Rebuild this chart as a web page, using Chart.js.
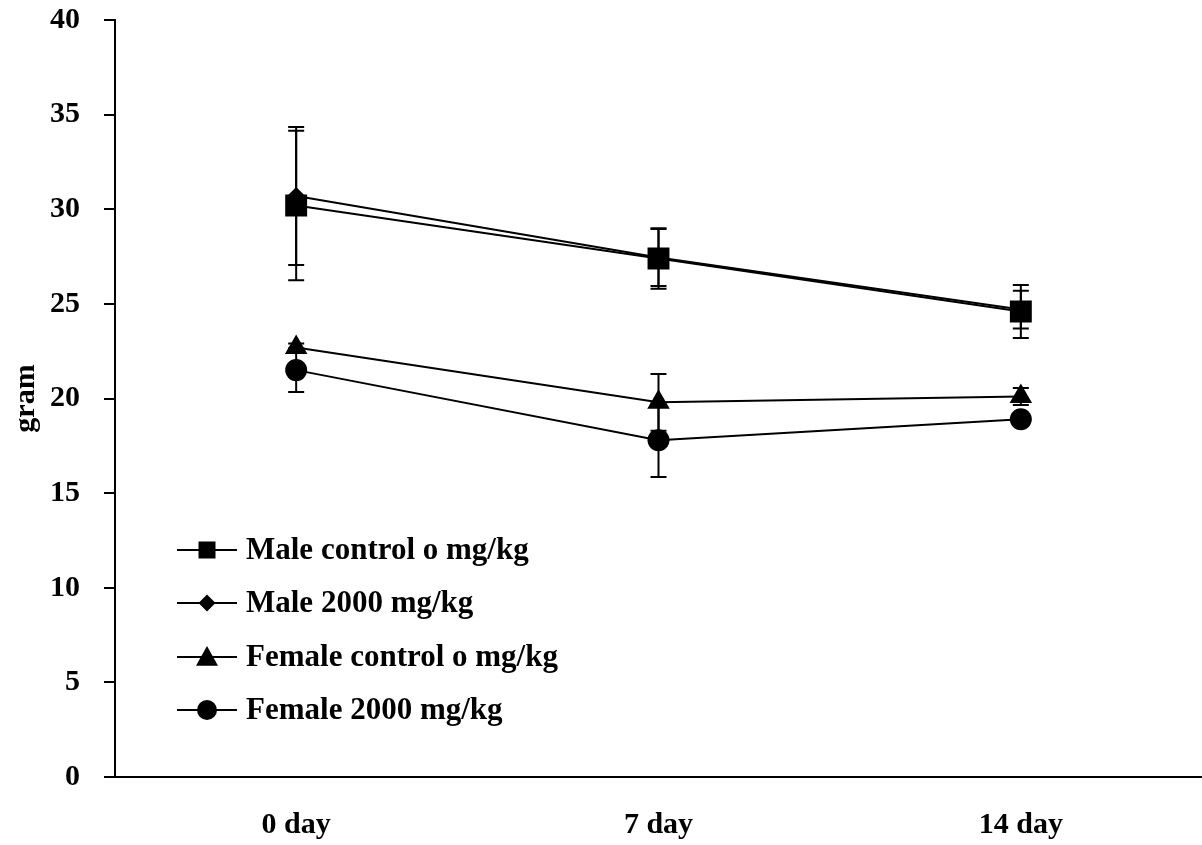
<!DOCTYPE html>
<html>
<head>
<meta charset="utf-8">
<script src="https://cdn.jsdelivr.net/npm/chart.js@4/dist/chart.umd.min.js"></script>
<style>
  html, body { margin: 0; background: #fff; overflow: hidden; }
  #wrap { width: 1202px; height: 845px; }
  #weight-chart { display: block; }
</style>
</head>
<body>
<div id="wrap"><canvas id="weight-chart" width="1202" height="845"></canvas></div>
<script>
// Data
const days = ['0 day', '7 day', '14 day'];
const seriesNames = ['Male control o mg/kg', 'Male 2000 mg/kg', 'Female control o mg/kg', 'Female 2000 mg/kg'];
const maleControl = [30.2, 27.4, 24.6];
const male2000 = [30.7, 27.45, 24.7];
const femaleControl = [22.7, 19.8, 20.1];
const female2000 = [21.5, 17.8, 18.9];
const maleControlErr = [3.95, 1.6, 1.4];
const male2000Err = [3.65, 1.5, 1.0];
const femaleControlErr = [0.2, 1.5, 0.45];
const female2000Err = [1.15, 1.95, 0.3];
const yTicks = [0, 5, 10, 15, 20, 25, 30, 35, 40];

const fontFamily = '"Liberation Serif", "Times New Roman", serif';
const markerStyles = ['rect', 'rectRot', 'triangle', 'circle'];
const markerSizes = [15.5, 9, 13, 11];
const allValues = [maleControl, male2000, femaleControl, female2000];
const allErrors = [maleControlErr, male2000Err, femaleControlErr, female2000Err];

const datasets = allValues.map((vals, i) => ({
    label: seriesNames[i],
    data: vals,
    errors: allErrors[i],
    borderColor: '#000',
    backgroundColor: '#000',
    borderWidth: 2,
    pointStyle: markerStyles[i],
    pointRadius: markerSizes[i],
    pointBorderWidth: 0,
    pointBackgroundColor: '#000',
    tension: 0
}));

// Error bars, drawn under the markers
const errorBars = {
    id: 'errorBars',
    beforeDatasetsDraw(chart) {
        const ctx = chart.ctx;
        const yScale = chart.scales.y;
        ctx.save();
        ctx.strokeStyle = '#000';
        ctx.lineWidth = 2;
        chart.data.datasets.forEach((ds, di) => {
            const meta = chart.getDatasetMeta(di);
            meta.data.forEach((pt, i) => {
                const e = ds.errors[i];
                const top = yScale.getPixelForValue(ds.data[i] + e);
                const bot = yScale.getPixelForValue(ds.data[i] - e);
                ctx.beginPath();
                ctx.moveTo(pt.x, top); ctx.lineTo(pt.x, bot);
                ctx.moveTo(pt.x - 8, top); ctx.lineTo(pt.x + 8, top);
                ctx.moveTo(pt.x - 8, bot); ctx.lineTo(pt.x + 8, bot);
                ctx.stroke();
            });
        });
        ctx.restore();
    }
};

// Legend with a line through each marker
function drawMarker(ctx, style, x, y, s) {
    ctx.beginPath();
    if (style === 'rect') {
        ctx.rect(x - s, y - s, 2 * s, 2 * s);
    } else if (style === 'rectRot') {
        ctx.moveTo(x, y - s); ctx.lineTo(x + s, y); ctx.lineTo(x, y + s); ctx.lineTo(x - s, y);
        ctx.closePath();
    } else if (style === 'triangle') {
        ctx.moveTo(x, y - s); ctx.lineTo(x + s, y + s * 0.8); ctx.lineTo(x - s, y + s * 0.8);
        ctx.closePath();
    } else {
        ctx.arc(x, y, s, 0, Math.PI * 2);
    }
    ctx.fill();
}

const lineLegend = {
    id: 'lineLegend',
    afterDraw(chart) {
        const ctx = chart.ctx;
        const rows = [550, 603, 657, 710];
        const legendSizes = [8.5, 8.5, 11, 10];
        ctx.save();
        ctx.fillStyle = '#000';
        ctx.strokeStyle = '#000';
        ctx.lineWidth = 2;
        ctx.font = 'bold 31px ' + fontFamily;
        ctx.textBaseline = 'middle';
        seriesNames.forEach((name, i) => {
            const y = rows[i];
            ctx.beginPath();
            ctx.moveTo(177, y); ctx.lineTo(237, y);
            ctx.stroke();
            drawMarker(ctx, markerStyles[i], 207, y, legendSizes[i]);
            ctx.fillText(name, 246, y + 1);
        });
        ctx.restore();
    }
};

function noScalePadding(scale) {
    scale.paddingTop = 0;
    scale.paddingBottom = 0;
    scale.paddingLeft = 0;
    scale.paddingRight = 0;
}

const ctx = document.getElementById('weight-chart').getContext('2d');
const weightChart = new Chart(ctx, {
    type: 'line',
    data: { labels: days, datasets: datasets },
    options: {
        responsive: false,
        animation: false,
        layout: { autoPadding: false, padding: { top: 20, right: 0, bottom: 0, left: 0 } },
        plugins: {
            legend: { display: false },
            tooltip: { enabled: false }
        },
        scales: {
            x: {
                type: 'category',
                offset: true,
                grid: { display: false, drawTicks: false },
                border: { display: true, color: '#000', width: 2 },
                ticks: {
                    color: '#000',
                    padding: 30,
                    font: { family: fontFamily, size: 30, weight: 'bold' }
                },
                afterFit(scale) { scale.height = 68; noScalePadding(scale); }
            },
            y: {
                min: 0,
                max: 40,
                afterBuildTicks(scale) { scale.ticks = yTicks.map(v => ({ value: v })); },
                grid: { drawOnChartArea: false, color: '#000', lineWidth: 2, tickLength: 11 },
                border: { display: true, color: '#000', width: 2 },
                ticks: {
                    color: '#000',
                    padding: 24,
                    font: { family: fontFamily, size: 30, weight: 'bold' }
                },
                title: {
                    display: true,
                    text: 'gram',
                    color: '#000',
                    padding: { top: 8, bottom: 0 },
                    font: { family: fontFamily, size: 30, weight: 'bold' }
                },
                afterFit(scale) { scale.width = 115; noScalePadding(scale); }
            }
        }
    },
    plugins: [errorBars, lineLegend]
});
</script>
</body>
</html>
